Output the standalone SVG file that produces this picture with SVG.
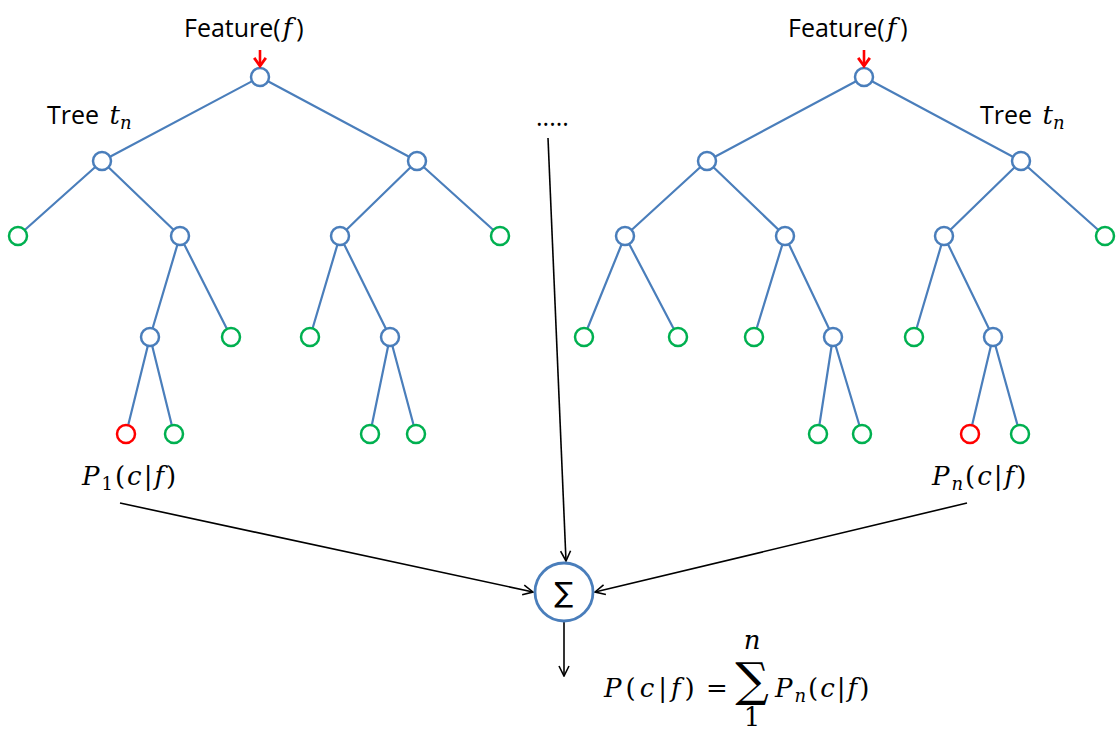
<svg xmlns="http://www.w3.org/2000/svg" width="1117" height="732" viewBox="0 0 1117 732">
<defs>
<marker id="ah" viewBox="0 0 12 12" refX="11" refY="6" markerWidth="12" markerHeight="12" markerUnits="userSpaceOnUse" orient="auto">
<path d="M1,1 L11,6 L1,11" fill="none" stroke="#000" stroke-width="1.6"/>
</marker>
<marker id="rh" viewBox="0 0 12 12" refX="6" refY="10" markerWidth="14" markerHeight="14" markerUnits="userSpaceOnUse" orient="0">
<path d="M1,3 L6,10 L11,3" fill="none" stroke="#f00" stroke-width="2.4"/>
</marker>
<style>
.e{stroke:#4a7ebb;stroke-width:2.2;fill:none}
.n{fill:#fff;stroke:#4a7ebb;stroke-width:2.5}
.g{fill:#fff;stroke:#00b050;stroke-width:2.5}
.r{fill:#fff;stroke:#f00;stroke-width:2.5}
.t{font-family:"Open Sans","Noto Sans","Liberation Sans",sans-serif;font-size:25px;fill:#000}
.m{font-family:"DejaVu Serif","Liberation Serif",serif;font-style:italic;font-size:26px;fill:#000}
.u{font-style:normal}
.s{font-size:18px}
.c{stroke:#000;stroke-width:1.6;fill:none}
</style>
</defs>

<g id="edges-tree1">
<path class="e" d="M260,77 L102,161 M260,77 L417,161 M102,161 L18,236 M102,161 L180,236 M180,236 L150,337 M180,236 L231,337 M150,337 L126,434 M150,337 L174,434 M417,161 L340,236 M417,161 L500,236 M340,236 L310,337 M340,236 L390,337 M390,337 L370,434 M390,337 L416,434"/>
</g>
<g id="edges-tree2">
<path class="e" d="M864,77 L707,161 M864,77 L1021,161 M707,161 L625,236 M707,161 L785,236 M625,236 L584,337 M625,236 L678,337 M785,236 L754,337 M785,236 L833,337 M833,337 L818,434 M833,337 L862,434 M1021,161 L944,236 M1021,161 L1105,236 M944,236 L914,337 M944,236 L993,337 M993,337 L970,434 M993,337 L1020,434"/>
</g>

<g id="tree1">
<circle class="n" cx="260" cy="77" r="9"/>
<circle class="n" cx="102" cy="161" r="9"/>
<circle class="n" cx="417" cy="161" r="9"/>
<circle class="g" cx="18" cy="236" r="9"/>
<circle class="n" cx="180" cy="236" r="9"/>
<circle class="n" cx="340" cy="236" r="9"/>
<circle class="g" cx="500" cy="236" r="9"/>
<circle class="n" cx="150" cy="337" r="9"/>
<circle class="g" cx="231" cy="337" r="9"/>
<circle class="g" cx="310" cy="337" r="9"/>
<circle class="n" cx="390" cy="337" r="9"/>
<circle class="r" cx="126" cy="434" r="9"/>
<circle class="g" cx="174" cy="434" r="9"/>
<circle class="g" cx="370" cy="434" r="9"/>
<circle class="g" cx="416" cy="434" r="9"/>
</g>

<g id="tree2">
<circle class="n" cx="864" cy="77" r="9"/>
<circle class="n" cx="707" cy="161" r="9"/>
<circle class="n" cx="1021" cy="161" r="9"/>
<circle class="n" cx="625" cy="236" r="9"/>
<circle class="n" cx="785" cy="236" r="9"/>
<circle class="n" cx="944" cy="236" r="9"/>
<circle class="g" cx="1105" cy="236" r="9"/>
<circle class="g" cx="584" cy="337" r="9"/>
<circle class="g" cx="678" cy="337" r="9"/>
<circle class="g" cx="754" cy="337" r="9"/>
<circle class="n" cx="833" cy="337" r="9"/>
<circle class="g" cx="914" cy="337" r="9"/>
<circle class="n" cx="993" cy="337" r="9"/>
<circle class="g" cx="818" cy="434" r="9"/>
<circle class="g" cx="862" cy="434" r="9"/>
<circle class="r" cx="970" cy="434" r="9"/>
<circle class="g" cx="1020" cy="434" r="9"/>
</g>

<g id="inputs">
<line x1="260" y1="50" x2="260" y2="66" stroke="#f00" stroke-width="2.6" marker-end="url(#rh)"/>
<line x1="864" y1="50" x2="864" y2="66" stroke="#f00" stroke-width="2.6" marker-end="url(#rh)"/>
</g>

<g id="labels">
<text class="t" x="184" y="37" font-size="28">Feature(<tspan class="m" font-size="28" dx="2">f</tspan><tspan dx="4">)</tspan></text>
<text class="t" x="788" y="37" font-size="28">Feature(<tspan class="m" font-size="28" dx="2">f</tspan><tspan dx="4">)</tspan></text>
<text class="t" x="47" y="124">Tree <tspan class="m" dx="4">t</tspan><tspan class="m s" dy="5">n</tspan></text>
<text class="t" x="980" y="124">Tree <tspan class="m" dx="4">t</tspan><tspan class="m s" dy="5">n</tspan></text>
<text class="t" x="536" y="126" font-size="20">.....</text>
<text class="m" x="82" y="485" letter-spacing="2">P<tspan class="u s" dy="5">1</tspan><tspan class="u" dy="-5">(</tspan>c<tspan class="u">|</tspan>f<tspan class="u">)</tspan></text>
<text class="m" x="932" y="485" letter-spacing="2">P<tspan class="s" dy="5">n</tspan><tspan class="u" dy="-5">(</tspan>c<tspan class="u">|</tspan>f<tspan class="u">)</tspan></text>
</g>

<g id="connectors">
<line class="c" x1="548" y1="138" x2="566" y2="561" marker-end="url(#ah)"/>
<line class="c" x1="120" y1="503" x2="533" y2="592" marker-end="url(#ah)"/>
<line class="c" x1="967" y1="503" x2="595" y2="592" marker-end="url(#ah)"/>
<line class="c" x1="564" y1="622" x2="564" y2="676" marker-end="url(#ah)"/>
</g>

<g id="sum">
<circle cx="564" cy="592" r="29" fill="#fff" stroke="#4a7ebb" stroke-width="2.8"/>
<text x="564" y="602" text-anchor="middle" font-family="DejaVu Sans,sans-serif" font-size="28" fill="#000">∑</text>
</g>

<g id="formula">
<text class="m" x="604" y="697" letter-spacing="4">P<tspan class="u">(</tspan>c<tspan class="u">|</tspan>f<tspan class="u">)</tspan></text>
<text class="m u" x="706" y="697">=</text>
<text x="752" y="696" text-anchor="middle" font-family="DejaVu Serif,serif" font-size="47" fill="#000">∑</text>
<text class="m" x="752" y="649" text-anchor="middle" font-size="20">n</text>
<text class="m u" x="752" y="726" text-anchor="middle" font-size="16">1</text>
<text class="m" x="775" y="697" letter-spacing="2">P<tspan class="s" dy="5">n</tspan><tspan class="u" dy="-5">(</tspan>c<tspan class="u">|</tspan>f<tspan class="u">)</tspan></text>
</g>
</svg>
